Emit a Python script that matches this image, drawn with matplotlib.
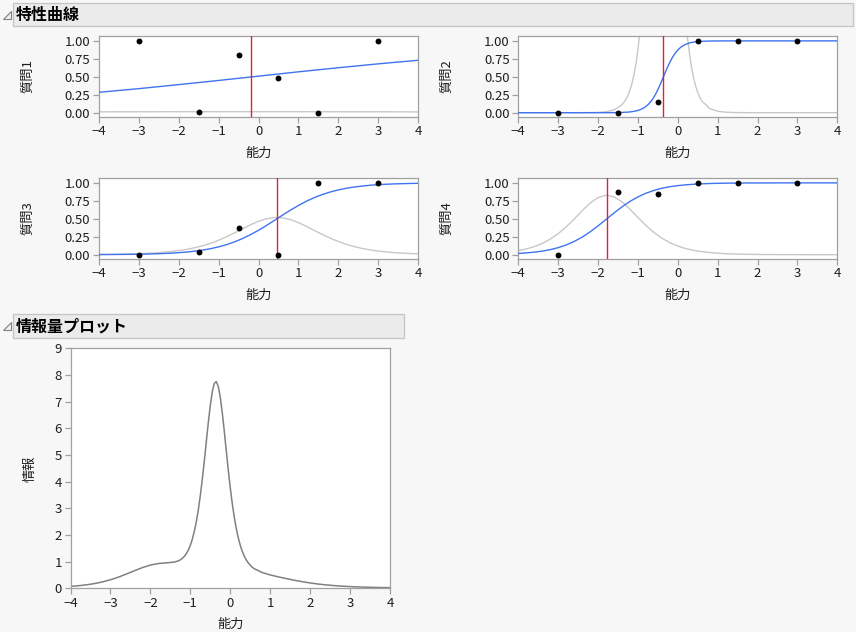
import numpy as np
import matplotlib
matplotlib.use("Agg")
import matplotlib.pyplot as plt
from matplotlib.patches import Rectangle, Polygon

plt.rcParams['font.family'] = ['Noto Sans CJK JP', 'DejaVu Sans']

W, H = 856, 632

# observed proportion correct at each ability group
ability_obs = [-3, -1.5, -0.5, 0.5, 1.5, 3]
q1_obs = [1.0, 0.01, 0.8, 0.49, 0.0, 1.0]
q2_obs = [0.0, 0.0, 0.15, 1.0, 1.0, 1.0]
q3_obs = [0.0, 0.04, 0.37, 0.0, 1.0, 1.0]
q4_obs = [0.0, 0.88, 0.85, 1.0, 1.0, 1.0]

# difficulty (red line)
difficulty = [-0.2, -0.36, 0.46, -1.78]

# item 1 curve, sampled every 1.0
x_coarse = [-4, -3, -2, -1, 0, 1, 2, 3, 4]
q1_prob = [0.284, 0.335, 0.391, 0.449, 0.509, 0.569, 0.626, 0.68, 0.73]
q1_info = [0.012, 0.013, 0.014, 0.014, 0.014, 0.014, 0.013, 0.013, 0.011]

# items 3 and 4, sampled every 0.2
x_mid = np.round(np.arange(-4, 4.01, 0.2), 2)
q3_prob = [0.002, 0.002, 0.003, 0.004, 0.005, 0.007, 0.009, 0.012, 0.016, 0.021, 0.028,
           0.037, 0.049, 0.064, 0.084, 0.109, 0.14, 0.179, 0.225, 0.279, 0.34, 0.407,
           0.478, 0.55, 0.62, 0.685, 0.744, 0.795, 0.838, 0.873, 0.902, 0.925, 0.942,
           0.956, 0.967, 0.975, 0.981, 0.986, 0.989, 0.992, 0.994]
q3_info = [0.003, 0.004, 0.006, 0.008, 0.011, 0.014, 0.019, 0.025, 0.033, 0.043, 0.057,
           0.074, 0.097, 0.125, 0.159, 0.201, 0.25, 0.304, 0.361, 0.417, 0.465, 0.501,
           0.517, 0.513, 0.489, 0.447, 0.395, 0.338, 0.282, 0.23, 0.184, 0.145, 0.113,
           0.087, 0.067, 0.051, 0.039, 0.029, 0.022, 0.017, 0.013]
q4_prob = [0.017, 0.025, 0.035, 0.05, 0.07, 0.098, 0.135, 0.184, 0.244, 0.318, 0.401,
           0.491, 0.581, 0.666, 0.742, 0.805, 0.856, 0.895, 0.925, 0.947, 0.962, 0.973,
           0.981, 0.987, 0.991, 0.994, 0.996, 0.997, 0.998, 0.999, 0.999, 0.999, 1, 1,
           1, 1, 1, 1, 1, 1, 1]
q4_info = [0.056, 0.08, 0.112, 0.157, 0.216, 0.293, 0.387, 0.496, 0.612, 0.718, 0.796,
           0.828, 0.806, 0.736, 0.634, 0.519, 0.408, 0.31, 0.23, 0.167, 0.12, 0.085,
           0.06, 0.042, 0.03, 0.021, 0.014, 0.01, 0.007, 0.005, 0.003, 0.002, 0.002,
           0.001, 0.001, 0.001, 0, 0, 0, 0, 0]

# item 2 and the total information need a finer grid around the peak
x_fine = np.round(np.concatenate([np.arange(-4, -1.35, 0.2),
                                  np.arange(-1.3, 0.62, 0.05),
                                  np.arange(0.8, 4.01, 0.2)]), 2)
q2_prob = [0, 0, 0, 0, 0, 0, 0, 0, 0, 0, 0, 0, 0.001, 0.004, 0.007, 0.008, 0.011, 0.014,
           0.019, 0.024, 0.032, 0.041, 0.053, 0.068, 0.087, 0.11, 0.14, 0.175, 0.217,
           0.266, 0.321, 0.382, 0.447, 0.513, 0.58, 0.643, 0.702, 0.755, 0.801, 0.84,
           0.873, 0.9, 0.921, 0.939, 0.952, 0.963, 0.972, 0.978, 0.983, 0.987, 0.99,
           0.992, 0.994, 0.998, 0.999, 1, 1, 1, 1, 1, 1, 1, 1, 1, 1, 1, 1, 1, 1, 1]
q2_info = [0, 0, 0, 0, 0, 0, 0, 0, 0.001, 0.002, 0.004, 0.013, 0.038, 0.109, 0.185, 0.241,
           0.313, 0.406, 0.526, 0.679, 0.875, 1.121, 1.429, 1.808, 2.268, 2.811, 3.437,
           4.13, 4.861, 5.584, 6.239, 6.756, 7.074, 7.151, 6.974, 6.57, 5.99, 5.3, 4.567,
           3.846, 3.178, 2.584, 2.074, 1.647, 1.298, 1.016, 0.791, 0.613, 0.474, 0.366,
           0.282, 0.217, 0.166, 0.058, 0.02, 0.007, 0.002, 0.001, 0, 0, 0, 0, 0, 0, 0, 0,
           0, 0, 0, 0]
total_info = [0.071, 0.096, 0.13, 0.177, 0.239, 0.32, 0.419, 0.535, 0.658, 0.776, 0.871,
              0.929, 0.954, 0.984, 1.028, 1.067, 1.121, 1.195, 1.297, 1.432, 1.609, 1.839,
              2.13, 2.494, 2.94, 3.471, 4.085, 4.767, 5.49, 6.205, 6.854, 7.366, 7.68,
              7.753, 7.575, 7.169, 6.588, 5.898, 5.166, 4.446, 3.778, 3.184, 2.675, 2.248,
              1.898, 1.615, 1.389, 1.209, 1.066, 0.954, 0.865, 0.793, 0.736, 0.59, 0.502,
              0.43, 0.365, 0.303, 0.248, 0.201, 0.16, 0.127, 0.101, 0.08, 0.064, 0.051,
              0.042, 0.034, 0.028, 0.024]

item_labels = ['質問1', '質問2', '質問3', '質問4']
x_label = '能力'

BLUE = '#3f73f0'
RED = '#e0203a'
LIGHT = '#c8c8c8'
FRAME = '#a0a0a0'
TXT = '#1e1e1e'


def px_rect(x0, y0, x1, y1):
    return [x0 / W, 1 - y1 / H, (x1 - x0) / W, (y1 - y0) / H]


def style(ax):
    for s in ax.spines.values():
        s.set_color(FRAME)
        s.set_linewidth(0.9)
    ax.tick_params(direction='out', length=4.3, width=0.9, color=FRAME,
                   labelsize=9.5, labelcolor=TXT, pad=2)
    ax.set_facecolor('white')


def header(y0, y1, x1, title):
    fig.patches.append(Rectangle((13.3 / W, 1 - y1 / H), (x1 - 13.3) / W, (y1 - y0) / H,
                                 transform=fig.transFigure, facecolor='#ebebeb',
                                 edgecolor='#c4c4c4', linewidth=0.9))
    yc = (y0 + y1) / 2
    tri = [(3.5 / W, 1 - (yc + 4) / H), (11 / W, 1 - (yc + 4) / H), (11 / W, 1 - (yc - 4) / H)]
    fig.patches.append(Polygon(tri, closed=True, transform=fig.transFigure,
                               facecolor='#f0f0f0', edgecolor='#808080', linewidth=0.8))
    fig.text(16 / W, 1 - (yc + 0.5) / H, title, fontsize=11.5, fontweight='bold',
             color='black', va='center', ha='left')


fig = plt.figure(figsize=(W / 100, H / 100), dpi=100)
fig.patch.set_facecolor('#f7f7f7')

header(2.7, 26.3, 852.5, '特性曲線')
header(314.3, 338.3, 404, '情報量プロット')

panels = [
    (px_rect(99, 35.5, 418, 116.5), x_coarse, q1_prob, q1_info, q1_obs),
    (px_rect(518.3, 35.5, 837.3, 116.5), x_fine, q2_prob, q2_info, q2_obs),
    (px_rect(99, 177.5, 418, 258.5), x_mid, q3_prob, q3_info, q3_obs),
    (px_rect(518.3, 177.5, 837.3, 258.5), x_mid, q4_prob, q4_info, q4_obs),
]

for i, (rect, xs, prob, info, o) in enumerate(panels):
    ax = fig.add_axes(rect)
    style(ax)
    ax.plot(xs, info, color=LIGHT, lw=1.0, zorder=2)
    ax.plot(xs, prob, color=BLUE, lw=1.0, zorder=3)
    ax.axvline(difficulty[i], color=RED, lw=1.0, zorder=4)
    ax.scatter(ability_obs, o, s=18, color='black', zorder=5, linewidths=0, clip_on=False)
    ax.set_xlim(-4, 4)
    ax.set_ylim(-0.053, 1.075)
    ax.set_xticks(range(-4, 5))
    ax.set_yticks([0, 0.25, 0.5, 0.75, 1.0])
    ax.set_yticklabels([f'{v:.2f}' for v in [0, 0.25, 0.5, 0.75, 1.0]])
    ax.set_ylabel(item_labels[i], fontsize=9.5, color=TXT)
    ax.yaxis.set_label_coords(-0.203, 0.5)
    ax.set_xlabel(x_label, fontsize=9.5, color=TXT)
    ax.xaxis.set_label_coords(0.5, -0.38)

ax = fig.add_axes(px_rect(70.5, 348.3, 390, 588.3))
style(ax)
ax.plot(x_fine, total_info, color='#808080', lw=1.1)
ax.set_xlim(-4, 4)
ax.set_ylim(0, 9)
ax.set_xticks(range(-4, 5))
ax.set_yticks(range(0, 10))
ax.set_ylabel('情報', fontsize=9.5, color=TXT)
ax.yaxis.set_label_coords(-0.105, 0.5)
ax.set_xlabel(x_label, fontsize=9.5, color=TXT)
ax.xaxis.set_label_coords(0.5, -0.122)

fig.savefig('out.png', dpi=100, facecolor=fig.get_facecolor())
